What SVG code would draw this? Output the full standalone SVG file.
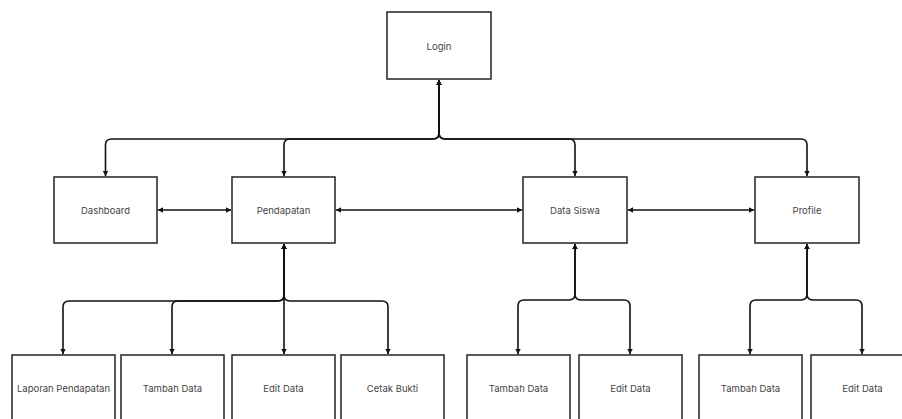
<svg xmlns="http://www.w3.org/2000/svg" width="902" height="419" viewBox="0 0 902 419">
<style>
.box{fill:#fff;stroke:#222;stroke-width:1.5}
.lbl{font-family:Inter,"Liberation Sans",sans-serif;font-size:9.5px;fill:#444;text-anchor:middle;dominant-baseline:central}
.c{fill:none;stroke:#111;stroke-width:1.6}
.two{marker-start:url(#ah);marker-end:url(#ah)}
</style>
<defs>
<marker id="ah" markerUnits="userSpaceOnUse" markerWidth="8" markerHeight="8" refX="6.5" refY="4" orient="auto-start-reverse">
<path d="M1.5,1.3 L6.5,4 L1.5,6.7 Z" fill="#111"/>
</marker>
</defs>
<rect width="902" height="419" fill="#fff"/>
<g id="connectors">
<path class="c two" d="M439,80 V133 Q439,139 433,139 H111.5 Q105.5,139 105.5,145 V176"/>
<path class="c two" d="M439,80 V133 Q439,139 433,139 H290 Q284,139 284,145 V176"/>
<path class="c two" d="M439,80 V133 Q439,139 445,139 H569 Q575,139 575,145 V176"/>
<path class="c two" d="M439,80 V133 Q439,139 445,139 H801 Q807,139 807,145 V176"/>
<path class="c two" d="M158,210 H231"/>
<path class="c two" d="M336,210 H522"/>
<path class="c two" d="M628,210 H754"/>
<path class="c two" d="M284,244 V295 Q284,301 278,301 H69 Q63,301 63,307 V354"/>
<path class="c two" d="M284,244 V295 Q284,301 278,301 H178 Q172,301 172,307 V354"/>
<path class="c two" d="M284,244 V354"/>
<path class="c two" d="M284,244 V295 Q284,301 290,301 H382 Q388,301 388,307 V354"/>
<path class="c two" d="M575,244 V294 Q575,300 569,300 H524 Q518,300 518,306 V354"/>
<path class="c two" d="M575,244 V294 Q575,300 581,300 H624 Q630,300 630,306 V354"/>
<path class="c two" d="M807,244 V294 Q807,300 801,300 H756 Q750,300 750,306 V354"/>
<path class="c two" d="M807,244 V294 Q807,300 813,300 H856 Q862,300 862,306 V354"/>
</g>
<g id="login"><rect class="box" x="387" y="12" width="104" height="67"/><text class="lbl" x="439" y="46">Login</text></g>
<g id="dashboard"><rect class="box" x="54" y="177" width="103" height="66"/><text class="lbl" x="105.5" y="210">Dashboard</text></g>
<g id="pendapatan"><rect class="box" x="232" y="177" width="103" height="66"/><text class="lbl" x="283.5" y="210">Pendapatan</text></g>
<g id="data-siswa"><rect class="box" x="523" y="177" width="104" height="66"/><text class="lbl" x="575" y="210">Data Siswa</text></g>
<g id="profile"><rect class="box" x="755" y="177" width="104" height="66"/><text class="lbl" x="807" y="210">Profile</text></g>
<g id="laporan-pendapatan"><rect class="box" x="12" y="355" width="103" height="66"/><text class="lbl" x="63.5" y="388">Laporan Pendapatan</text></g>
<g id="pendapatan-tambah-data"><rect class="box" x="121" y="355" width="103" height="66"/><text class="lbl" x="172.5" y="388">Tambah Data</text></g>
<g id="pendapatan-edit-data"><rect class="box" x="232" y="355" width="103" height="66"/><text class="lbl" x="283.5" y="388">Edit Data</text></g>
<g id="cetak-bukti"><rect class="box" x="341" y="355" width="103" height="66"/><text class="lbl" x="392.5" y="388">Cetak Bukti</text></g>
<g id="siswa-tambah-data"><rect class="box" x="467" y="355" width="103" height="66"/><text class="lbl" x="518.5" y="388">Tambah Data</text></g>
<g id="siswa-edit-data"><rect class="box" x="579" y="355" width="103" height="66"/><text class="lbl" x="630.5" y="388">Edit Data</text></g>
<g id="profile-tambah-data"><rect class="box" x="699" y="355" width="103" height="66"/><text class="lbl" x="750.5" y="388">Tambah Data</text></g>
<g id="profile-edit-data"><rect class="box" x="811" y="355" width="103" height="66"/><text class="lbl" x="862.5" y="388">Edit Data</text></g>
</svg>
